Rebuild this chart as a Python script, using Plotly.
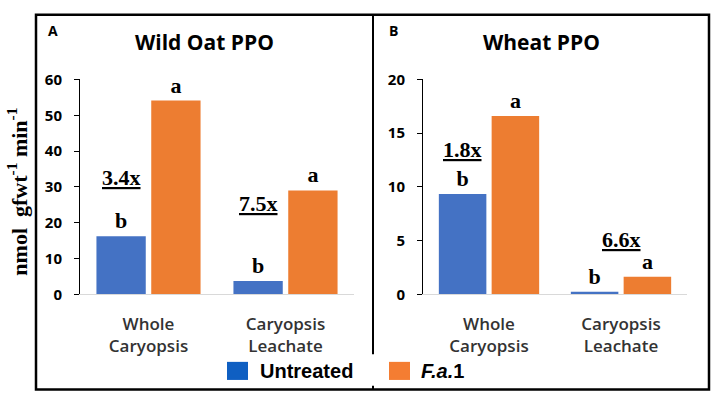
import plotly.graph_objects as go

# ---- data ----
categories = ["Whole<br>Caryopsis", "Caryopsis<br>Leachate"]
series_names = ["Untreated", "F.a.1"]
oat_untreated = [16.2, 3.7]
oat_fa1 = [54.1, 29.0]
wheat_untreated = [9.35, 0.25]
wheat_fa1 = [16.6, 1.65]
oat_letters_untreated = ["b", "b"]
oat_letters_fa1 = ["a", "a"]
wheat_letters_untreated = ["b", "b"]
wheat_letters_fa1 = ["a", "a"]
oat_fold = ["3.4x", "7.5x"]
oat_fold_y = [32.7, 25.3]
wheat_fold = ["1.8x", "6.6x"]
wheat_fold_y = [13.5, 5.1]
oat_ticks = [0, 10, 20, 30, 40, 50, 60]
wheat_ticks = [0, 5, 10, 15, 20]

W, H = 714, 407
def px(x):
    return x / W
def py(y):
    return 1 - y / H

BLUE = "#4472C4"
ORANGE = "#ED7D31"
SERIF = "Liberation Serif"
SANS = "Open Sans"

fig = go.Figure()

def add_bars(vals, letters, color, name, xa, ya):
    fig.add_trace(go.Bar(
        x=categories, y=vals, name=name, marker=dict(color=color, line=dict(width=0)),
        text=letters, textposition="outside", cliponaxis=False,
        textfont=dict(family=SERIF, size=22, color="black", weight="bold"),
        xaxis=xa, yaxis=ya, showlegend=False))

add_bars(oat_untreated, oat_letters_untreated, BLUE, series_names[0], "x", "y")
add_bars(oat_fa1, oat_letters_fa1, ORANGE, series_names[1], "x", "y")
add_bars(wheat_untreated, wheat_letters_untreated, BLUE, series_names[0], "x2", "y2")
add_bars(wheat_fa1, wheat_letters_fa1, ORANGE, series_names[1], "x2", "y2")

ydom = [py(298), py(72)]
xaxis_common = dict(type="category", showline=True, linecolor="#d9d9d9", linewidth=1,
                    ticks="", showgrid=False, ticklabelstandoff=14,
                    tickfont=dict(family=SANS, size=17, color="#333333", weight=600))
yaxis_common = dict(showline=True, linecolor="black", linewidth=1, ticks="outside",
                    ticklen=5, tickcolor="black", showgrid=False, zeroline=False,
                    ticklabelstandoff=9,
                    tickfont=dict(family=SANS, size=15, color="black", weight="bold"))

fig.update_layout(
    width=W, height=H, margin=dict(l=0, r=0, t=0, b=0),
    paper_bgcolor="white", plot_bgcolor="white",
    barmode="group", bargap=0.2, bargroupgap=0.1,
    xaxis=dict(domain=[px(80), px(354)], anchor="y", **xaxis_common),
    xaxis2=dict(domain=[px(423), px(687)], anchor="y2", **xaxis_common),
    yaxis=dict(domain=ydom, range=[0, 60], tickvals=oat_ticks, anchor="x", **yaxis_common),
    yaxis2=dict(domain=ydom, range=[0, 20], tickvals=wheat_ticks, anchor="x2", **yaxis_common),
)

def pann(x, y, text, font, xanchor="center", **kw):
    return dict(x=px(x), y=py(y), xref="paper", yref="paper", text=text, showarrow=False,
                xanchor=xanchor, yanchor="middle", font=font, **kw)

anns = []
fold_font = dict(family=SERIF, size=22, color="black", weight="bold")
for i, (t, yv) in enumerate(zip(oat_fold, oat_fold_y)):
    anns.append(dict(x=i - 0.2, y=yv, xref="x", yref="y", text="<u>" + t + "</u>", showarrow=False,
                     xanchor="center", yanchor="middle", font=fold_font))
for i, (t, yv) in enumerate(zip(wheat_fold, wheat_fold_y)):
    xx = i - 0.2 if i == 0 else i
    anns.append(dict(x=xx, y=yv, xref="x2", yref="y2", text="<u>" + t + "</u>", showarrow=False,
                     xanchor="center", yanchor="middle", font=fold_font))

title_font = dict(family=SANS, size=21, color="black", weight="bold")
anns.append(pann(205, 33, "Wild Oat PPO", title_font))
anns.append(pann(541, 33, "Wheat PPO", title_font))
lab_font = dict(family=SANS, size=14, color="black", weight="bold")
anns.append(pann(53, 21, "A", lab_font))
anns.append(pann(393, 20, "B", lab_font))
anns.append(pann(17, 190, "nmol  gfwt<sup>-1</sup> min<sup>-1</sup>",
                 dict(family=SERIF, size=22, color="black", weight="bold"), textangle=-90))
leg_font = dict(family="Liberation Sans", size=20, color="black", weight="bold")
anns.append(pann(258, 379, series_names[0], leg_font, xanchor="left"))
anns.append(pann(419, 379, "<i>F.a.</i>1", leg_font, xanchor="left"))
fig.update_layout(annotations=anns)

shapes = [
    dict(type="rect", xref="paper", yref="paper", x0=px(36), x1=px(709), y0=py(398), y1=py(4),
         line=dict(color="black", width=2.5), layer="above"),
    dict(type="line", xref="paper", yref="paper", x0=px(373), x1=px(373), y0=py(398), y1=py(4),
         line=dict(color="black", width=2)),
    dict(type="rect", xref="paper", yref="paper", x0=px(222), x1=px(472), y0=py(394), y1=py(361),
         fillcolor="white", line=dict(width=0)),
    dict(type="rect", xref="paper", yref="paper", x0=px(227), x1=px(248), y0=py(388), y1=py(369),
         fillcolor="#0F5FC2", line=dict(width=0)),
    dict(type="rect", xref="paper", yref="paper", x0=px(389), x1=px(410), y0=py(388), y1=py(369),
         fillcolor="#F47D32", line=dict(width=0)),
]
fig.update_layout(shapes=shapes)

fig.write_html("out.html", config={"displayModeBar": False},
               post_script="document.body.style.margin='0';document.body.style.overflow='hidden';")
